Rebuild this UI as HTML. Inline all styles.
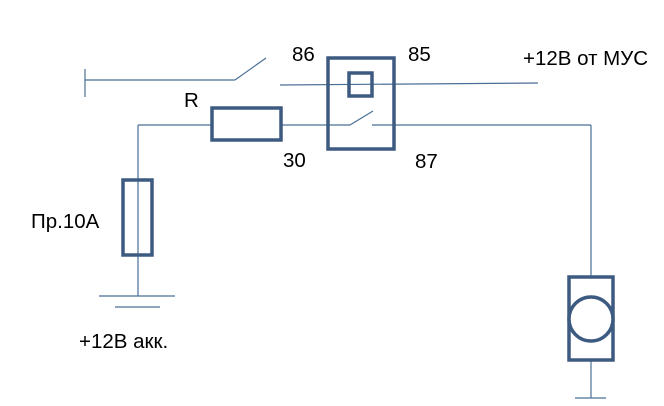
<!DOCTYPE html>
<html><head><meta charset="utf-8"><style>
html,body{margin:0;padding:0;background:#fff;width:664px;height:406px;overflow:hidden}
svg{display:block}
text{font-family:"Liberation Sans","DejaVu Sans",sans-serif;font-size:20.5px;fill:#000}
</style></head><body>
<svg width="664" height="406" viewBox="0 0 664 406" xmlns="http://www.w3.org/2000/svg">
<g stroke="#4a6f96" stroke-width="1.2" fill="none">
<line x1="85" y1="69" x2="85" y2="97"/>
<line x1="85" y1="80" x2="235" y2="80"/>
<line x1="235" y1="80" x2="266" y2="58"/>
<line x1="280" y1="85" x2="538" y2="83"/>
<line x1="138" y1="125" x2="212" y2="125"/>
<line x1="281" y1="125" x2="350" y2="125"/>
<line x1="350" y1="125" x2="373" y2="111"/>
<line x1="372" y1="125" x2="591" y2="125"/>
<line x1="591" y1="125" x2="591" y2="277"/>
<line x1="591" y1="360" x2="591" y2="398"/>
<line x1="575" y1="398" x2="606" y2="398"/>
<line x1="138" y1="125" x2="138" y2="296"/>
<line x1="99" y1="296" x2="175" y2="296"/>
<line x1="115" y1="307" x2="160" y2="307"/>
</g>
<g stroke="#3d5a80" stroke-width="3.5" fill="#fff">
<rect x="328" y="58" width="66" height="91" fill="none"/>
<rect x="349" y="73" width="23" height="23" fill="none"/>
<rect x="212" y="108" width="69" height="32"/>
<rect x="123" y="180" width="29" height="75" fill="none"/>
<rect x="569" y="277" width="44" height="83"/>
<circle cx="591" cy="319" r="22"/>
</g>
<text x="292" y="61">86</text>
<text x="408" y="61">85</text>
<text x="523" y="65">+12В от МУС</text>
<text x="184" y="107">R</text>
<text x="283" y="167">30</text>
<text x="415" y="168">87</text>
<text x="31" y="228">Пр.10А</text>
<text x="79" y="348">+12В акк.</text>
</svg>
</body></html>
